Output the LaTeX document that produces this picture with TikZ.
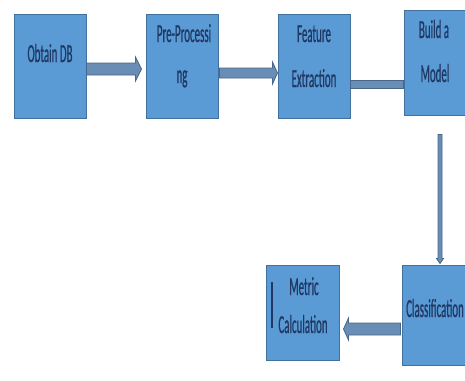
\documentclass[tikz,border=0pt]{standalone}
\usepackage{fontspec}
\usetikzlibrary{calc}
\newfontfamily\lblfont[FakeStretch=0.42,FakeBold=0.6]{Carlito}
\definecolor{boxfill}{HTML}{5B9BD5}
\definecolor{boxline}{HTML}{41719C}
\definecolor{arrfill}{HTML}{6A8DB6}
\definecolor{arrline}{HTML}{46668A}
\definecolor{navy}{HTML}{1F3864}
% horizontal block arrow: start, tip, half shaft, half head, head length
\newcommand\harr[5]{\draw[blockarr] let \p1=(#1),\p2=(#2),\n1={ifthenelse(\x2>\x1,1,-1)} in
 (\x1,\y1+#3) -- (\x2-\n1*#5,\y1+#3) -- (\x2-\n1*#5,\y1+#4) -- (\x2,\y1)
 -- (\x2-\n1*#5,\y1-#4) -- (\x2-\n1*#5,\y1-#3) -- (\x1,\y1-#3) -- cycle;}
% vertical block arrow
\newcommand\varr[5]{\draw[blockarr] let \p1=(#1),\p2=(#2),\n1={ifthenelse(\y2>\y1,1,-1)} in
 (\x1+#3,\y1) -- (\x1+#3,\y2-\n1*#5) -- (\x1+#4,\y2-\n1*#5) -- (\x1,\y2)
 -- (\x1-#4,\y2-\n1*#5) -- (\x1-#3,\y2-\n1*#5) -- (\x1-#3,\y1) -- cycle;}
\begin{document}
\begin{tikzpicture}[x=1pt,y=-1pt,
  box/.style={draw=boxline,fill=boxfill,line width=1pt,inner sep=0pt,
    minimum width=#1,minimum height=104pt},
  box/.default=72pt,
  lbl/.style={font=\lblfont\fontsize{26}{43}\selectfont,text=navy,inner sep=0pt,anchor=base},
  blockarr/.style={draw=arrline,fill=arrfill,line width=0.8pt,line join=miter}]
\useasboundingbox (0,0) rectangle (465,380);
\fill[white] (0,0) rectangle (465,380);
\clip (0,0) rectangle (465,380);
% boxes
\node[box] (o) at (50,66) {};
\node[box] (p) at (182,66) {};
\node[box] (f) at (314,66) {};
\node[box=66pt,minimum height=105pt] (m) at (437,62.5) {};
\node[box=68pt,minimum height=100pt] (c) at (436,315) {};
\node[box=73pt,minimum height=95pt] (mc) at (302.5,312.5) {};
% labels
\node[lbl] (to) at (50,62) {Obtain DB};
\node[lbl] (tp1) at (184,42) {Pre-Processi};
\node[lbl] (tp2) at (182,83) {ng};
\node[lbl] (tf1) at (314,42) {Feature};
\node[lbl] (tf2) at (314,87) {Extraction};
\node[lbl] (tm1) at (434,38) {Build a};
\node[lbl] (tm2) at (435,82) {Model};
\node[lbl,anchor=base west] (tc) at (406,317) {Classification};
\node[lbl] (tmc1) at (304,295) {Metric};
\node[lbl] (tmc2) at (303,333) {Calculation};
% bar inside metric box
\draw[navy,line width=2pt] ($(mc.west)+(6,-30.5)$) -- ($(mc.west)+(6,15.5)$);
% connectors
\harr{$(o.east)+(0,3)$}{$(p.west)+(-4,3)$}{6pt}{12pt}{6pt}
\harr{$(p.east)+(1,7)$}{$(f.west)+(0,7)$}{5pt}{11pt}{5pt}
\draw[blockarr] ($(f.east)+(0,14)$) rectangle ($(m.west)+(0,25.5)$);
\varr{$(m.south)+(3,19)$}{$(c.north)+(4,-1)$}{2pt}{3.5pt}{5pt}
\harr{$(c.west)+(-1,14)$}{$(mc.east)+(4,16.5)$}{6pt}{11pt}{5pt}
\end{tikzpicture}
\end{document}
